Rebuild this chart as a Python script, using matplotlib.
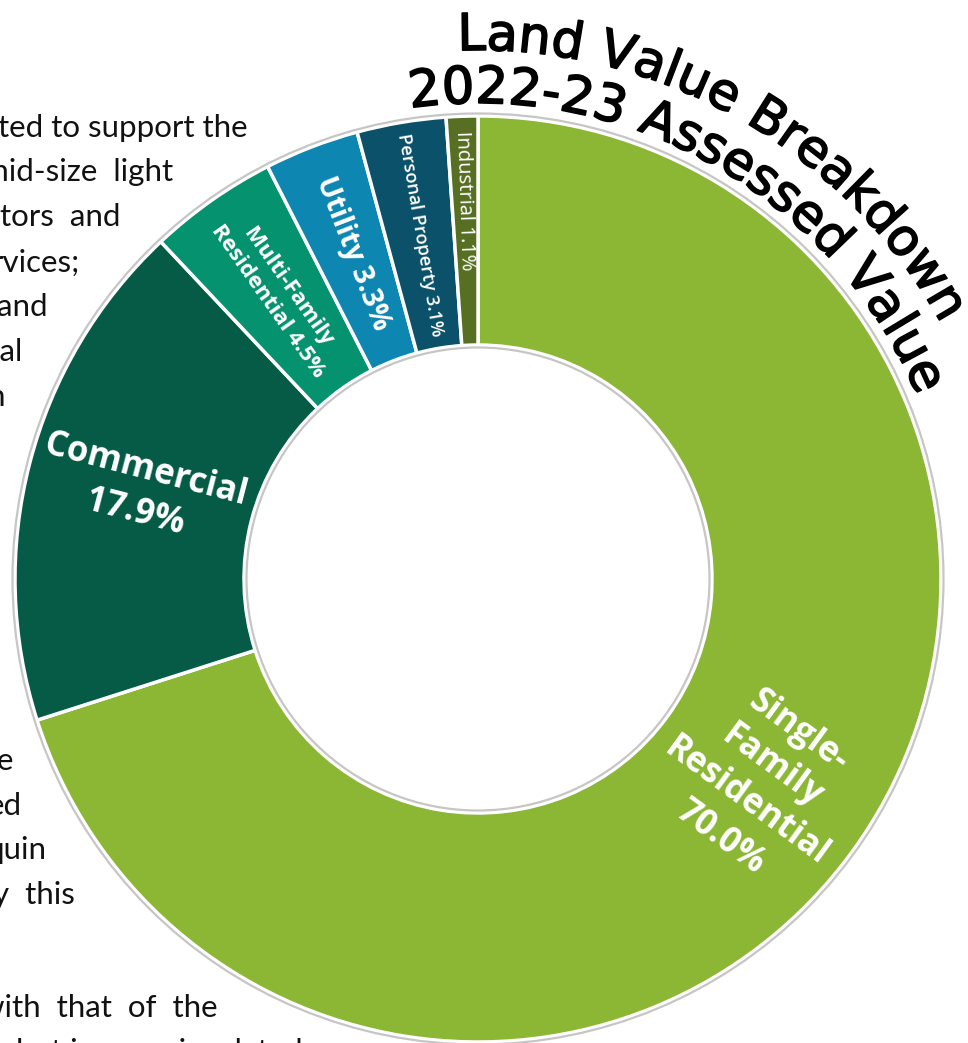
import numpy as np
import matplotlib.pyplot as plt
from matplotlib import font_manager
from matplotlib.ft2font import FT2Font
from matplotlib.patches import Circle
import matplotlib.patheffects as pe

# slices, clockwise from 12 o'clock
categories = ["Single-Family Residential", "Commercial", "Multi-Family Residential",
              "Utility", "Personal Property", "Industrial"]
shares = [70.0, 17.9, 4.5, 3.3, 3.1, 1.1]
slice_labels = ["Single-\nFamily\nResidential\n70.0%", "Commercial\n17.9%",
                "Multi-Family\nResidential 4.5%", "Utility 3.3%",
                "Personal Property 3.1%", "Industrial 1.1%"]
colors = ["#8bb735", "#055b46", "#05926f", "#0d86b2", "#0b5169", "#566f22"]

title_lines = ["Land Value Breakdown", "2022-23 Assessed Value"]

# bits of the page text that sits next to the chart (right end x px, baseline y px)
page_text = [("ted to support the", 248, 137),
             ("mid-size  light", 173, 181),
             ("tors  and", 120, 226),
             ("rvices;", 80, 272),
             ("and", 48, 316),
             ("nal", 23, 361),
             ("n", 5, 406),
             ("e", 13, 770),
             ("ed", 22, 815),
             ("quin", 47, 859),
             ("y  this", 75, 904),
             ("with  that  of  the", 218, 1017),
             ("but is more insulated", 303, 1061)]

W, H = 968, 1043
cx, cy = 478, H - 579
R_out = 463
ring = 229

fig = plt.figure(figsize=(W / 100, H / 100), dpi=100)
ax = fig.add_axes([0, 0, 1, 1])

for s, xr, yb in page_text:
    ax.text(xr, H - yb, s, ha='right', va='baseline', fontsize=22.5,
            family='Lato', color='#111111', zorder=0)

wedges, _ = ax.pie(shares, colors=colors, startangle=90, counterclock=False,
                   center=(cx, cy), radius=R_out,
                   wedgeprops=dict(width=ring, edgecolor='white', linewidth=2.5))
for w in wedges:
    w.set_zorder(2)

ax.add_patch(Circle((cx, cy), R_out + 2.5, fill=False, ec='#c6c6c6', lw=1.6, zorder=3))
ax.add_patch(Circle((cx, cy), R_out - ring - 2.5, fill=False, ec='#c6c6c6', lw=1.6, zorder=3))

# label styles: size, weight, linespacing, radius
r_mid = R_out - ring / 2
lab_style = [(25, 'bold', 1.3, r_mid), (25, 'bold', 1.3, r_mid), (16, 'bold', 1.2, r_mid),
             (20.5, 'bold', 1.2, r_mid), (13.2, 'semibold', 1.2, r_mid),
             (14.5, 'normal', 1.2, r_mid + 30)]
for w, lab, (fs, fw, ls, r_lab) in zip(wedges, slice_labels, lab_style):
    th = (w.theta1 + w.theta2) / 2
    tx = cx + r_lab * np.cos(np.radians(th))
    ty = cy + r_lab * np.sin(np.radians(th))
    rot = th
    if 90 < th % 360 < 270:
        rot = th - 180
    ax.text(tx, ty, lab, ha='center', va='center', rotation=rot, rotation_mode='anchor',
            multialignment='center', fontsize=fs, fontweight=fw, linespacing=ls,
            family='Open Sans', color='white', zorder=4)

# curved title around the ring
tprop = font_manager.FontProperties(family='DejaVu Sans', weight='normal')
ft = FT2Font(font_manager.findfont(tprop))
ft.set_size(100, 72)


def advances(s):
    return np.array([ft.load_char(ord(c)).linearHoriAdvance / 65536 / 100 for c in s])


def arc_text(s, r, start_deg, length, halo):
    adv = advances(s)
    fs = length / adv.sum() * 72 / 100
    px = adv * fs * 100 / 72
    cum = np.cumsum(px) - px / 2
    for c, d in zip(s, cum):
        th = np.radians(start_deg) - d / r
        t = ax.text(cx + r * np.cos(th), cy + r * np.sin(th), c, ha='center', va='baseline',
                    rotation=np.degrees(th) - 90, rotation_mode='anchor',
                    fontproperties=tprop, color='black', zorder=6)
        t.set_fontsize(fs)
        effects = [pe.Stroke(linewidth=1.2, foreground='black'), pe.Normal()]
        if halo:
            effects = [pe.Stroke(linewidth=4, foreground='white')] + effects
        t.set_path_effects(effects)


arc_text(title_lines[1], 476, 98.2, 628, False)
arc_text(title_lines[0], 529, 92.2, 585, True)

ax.set_xlim(0, W)
ax.set_ylim(0, H)
ax.set_aspect('equal')
ax.axis('off')

plt.savefig("out.png", dpi=100)
